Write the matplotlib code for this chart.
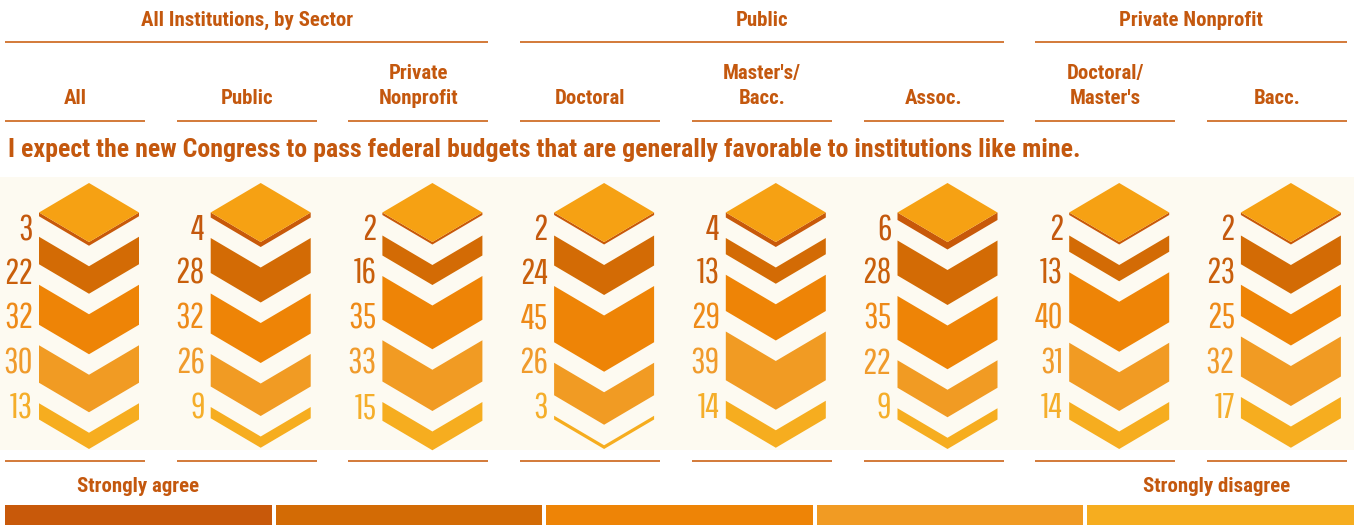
import matplotlib
matplotlib.use('Agg')
import matplotlib.pyplot as plt
from matplotlib.patches import Polygon, Rectangle

# survey data (percent of respondents)
groups = ['All Institutions, by Sector', 'Public', 'Private Nonprofit']
group_cols = [(0, 2), (3, 5), (6, 7)]
columns = ['All', 'Public', 'Private\nNonprofit', 'Doctoral', "Master's/\nBacc.",
           'Assoc.', "Doctoral/\nMaster's", 'Bacc.']
question = ('I expect the new Congress to pass federal budgets that are '
            'generally favorable to institutions like mine.')

strongly_agree = [3, 4, 2, 2, 4, 6, 2, 2]
agree = [22, 28, 16, 24, 13, 28, 13, 23]
neutral = [32, 32, 35, 45, 29, 35, 40, 25]
disagree = [30, 26, 33, 26, 39, 22, 31, 32]
strongly_disagree = [13, 9, 15, 3, 14, 9, 14, 17]
scale_labels = ['Strongly agree', 'Strongly disagree']

series = [strongly_agree, agree, neutral, disagree, strongly_disagree]
palette = ['#C8590A', '#D36B05', '#EE8406', '#F19B23', '#F6AD1F']
label_colors = ['#C4580D', '#C95F0B', '#EE8A18', '#F09B2C', '#F5AE2A']
cap_color = '#F6A113'
text_color = '#C4580E'
panel_color = '#FDFAF1'

W, H = 1354, 525
fig = plt.figure(figsize=(W / 100, H / 100), dpi=100)
ax = fig.add_axes([0, 0, 1, 1])
ax.set_xlim(0, W)
ax.set_ylim(H, 0)
ax.axis('off')

bold = dict(family=['Roboto Condensed', 'DejaVu Sans'], weight='bold', color=text_color)
num_font = ['Pathway Gothic One', 'Oswald', 'DejaVu Sans']

step = 171.7
cx0 = 89
hw, hd = 50, 29.5      # half width / half height of the diamond
px_per_pct = 1.25
gap = 20.5
top = 183

def col_x(i):
    return cx0 + i * step

def line_span(i):
    return col_x(i) - 84, col_x(i) + 56

# header
for g, (a, b) in zip(groups, group_cols):
    x1 = line_span(a)[0]
    x2 = line_span(b)[1]
    ax.plot([x1, x2], [42, 42], color='#D0702A', lw=1.3, solid_capstyle='butt')
    ax.text((x1 + x2) / 2, 20, g, fontsize=15, ha='center', va='center', **bold)

for i, name in enumerate(columns):
    x1, x2 = line_span(i)
    ax.plot([x1, x2], [121, 121], color='#D0702A', lw=1.3, solid_capstyle='butt')
    ax.plot([x1, x2], [461, 461], color='#D0702A', lw=1.3, solid_capstyle='butt')
    ax.text((x1 + x2) / 2, 108, name, fontsize=15, ha='center', va='bottom',
            linespacing=1.4, multialignment='center', **bold)

ax.text(8, 150, question, fontsize=18.6, ha='left', va='center', **bold)

# background panel
ax.add_patch(Rectangle((0, 177), W, 273, facecolor=panel_color, edgecolor='none', zorder=0))

def chevron(cx, y0, t, color):
    pts = [(cx - hw, y0), (cx, y0 + hd), (cx + hw, y0),
           (cx + hw, y0 + t), (cx, y0 + hd + t), (cx - hw, y0 + t)]
    ax.add_patch(Polygon(pts, closed=True, facecolor=color, edgecolor='none', zorder=2))

label_rows = [227, 270, 315, 360, 405]

for i in range(len(columns)):
    cx = col_x(i)
    ax.add_patch(Polygon([(cx, top), (cx + hw, top + hd), (cx, top + 2 * hd), (cx - hw, top + hd)],
                         closed=True, facecolor=cap_color, edgecolor='none', zorder=3))
    y = top + hd
    for k, vals in enumerate(series):
        t = vals[i] * px_per_pct
        chevron(cx, y, t, palette[k])
        y += t + gap
        ax.text(cx - 56, label_rows[k], str(vals[i]), fontsize=26, ha='right', va='center_baseline',
                family=num_font, color=label_colors[k])

# colour key
key_w = (W - 5 - 4 * 4) / 5
for k, c in enumerate(palette):
    x = 5 + k * (key_w + 4)
    ax.add_patch(Rectangle((x, 505), key_w, 25, facecolor=c, edgecolor='none'))
ax.text(5 + key_w / 2, 487, scale_labels[0], fontsize=15, ha='center', va='center', **bold)
ax.text(5 + 4 * (key_w + 4) + key_w / 2 - 4, 487, scale_labels[1], fontsize=15,
        ha='center', va='center', **bold)

fig.savefig('out.png', dpi=100)
